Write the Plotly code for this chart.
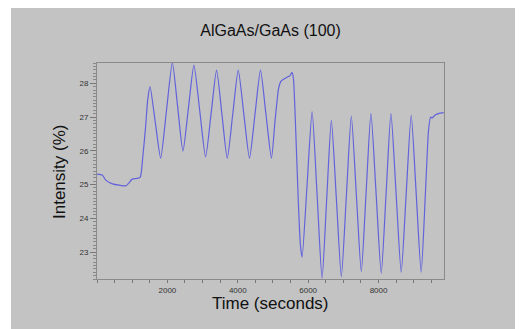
import plotly.graph_objects as go

# Time (seconds) and intensity (%)
time_s = [0, 150, 250, 440, 630, 820, 910, 1000, 1150, 1230, 1300, 1380, 1440, 1506,
          1657, 1809, 1975, 2141, 2292, 2442, 2598, 2754, 2920, 3086, 3242, 3398, 3550,
          3701, 3857, 4013, 4173, 4333, 4489, 4645, 4801, 4957, 5060, 5160, 5220, 5300,
          5400, 5480, 5540, 5580, 5650, 5720, 5780, 5828, 5970, 6112, 6254, 6395, 6527,
          6659, 6801, 6943, 7085, 7226, 7368, 7510, 7647, 7784, 7930, 8077, 8215, 8352,
          8498, 8644, 8786, 8928, 9070, 9211, 9330, 9420, 9480, 9520, 9600, 9700, 9850]
intensity = [25.31, 25.28, 25.13, 25.02, 24.98, 24.96, 25.05, 25.16, 25.18, 25.22, 25.8,
             26.7, 27.5, 27.9, 26.84, 25.78, 27.2, 28.61, 27.3, 25.99, 27.27, 28.54, 27.18,
             25.82, 27.1, 28.39, 27.08, 25.78, 27.08, 28.39, 27.08, 25.78, 27.08, 28.39,
             27.08, 25.78, 26.9, 27.85, 28.05, 28.12, 28.18, 28.22, 28.32, 28.15, 26.5, 24.5,
             23.2, 22.85, 25.0, 27.16, 24.69, 22.22, 24.57, 26.91, 24.59, 22.27, 24.65, 27.03,
             24.72, 22.42, 24.77, 27.11, 24.74, 22.37, 24.74, 27.11, 24.75, 22.40, 24.73,
             27.06, 24.73, 22.40, 24.7, 26.6, 27.0, 26.97, 27.05, 27.1, 27.13]

title_text = "AlGaAs/GaAs (100)"
x_title = "Time (seconds)"
y_title = "Intensity (%)"

FONT = "Liberation Sans, Arial, sans-serif"
# page has an 8px body margin; figure is sized/offset to compensate
W, H = 515, 321
L, R, T, B = 89, 79, 55, 50
pw, ph = W - L - R, H - T - B

fig = go.Figure()
fig.add_trace(go.Scatter(x=time_s, y=intensity, mode="lines",
                         line=dict(color="#6262dc", width=1.2, shape="spline", smoothing=0.6),
                         showlegend=False))

# gray backdrop
fig.add_shape(type="rect", xref="paper", yref="paper",
              x0=(3 - L) / pw, x1=(W + 5 - L) / pw,
              y0=-(B + 5) / ph, y1=(ph + T + 5) / ph,
              fillcolor="#c3c3c3", line=dict(width=0), layer="below")

fig.add_annotation(text=x_title, xref="paper", yref="paper",
                   x=0.5, y=-(24) / ph, xanchor="center", yanchor="middle",
                   showarrow=False, font=dict(size=17, color="#111111"))
fig.add_annotation(text=y_title, xref="paper", yref="paper", textangle=-90,
                   x=(51 - L) / pw, y=(ph - (172 - 8 - T)) / ph,
                   xanchor="center", yanchor="middle",
                   showarrow=False, font=dict(size=17, color="#111111"))

fig.update_layout(
    width=W, height=H,
    margin=dict(l=L, r=R, t=T, b=B, autoexpand=False),
    paper_bgcolor="white",
    plot_bgcolor="#e4e4e4",
    font=dict(family=FONT, color="#222222"),
    title=dict(text=title_text, x=(L + pw / 2) / W, xanchor="center", y=1 - 22 / H,
               yanchor="middle", font=dict(size=16, color="#111111")),
)
fig.update_xaxes(
    range=[0, 9860], tickvals=[2000, 4000, 6000, 8000],
    ticks="outside", ticklen=3, tickcolor="#777777", tickwidth=1,
    minor=dict(dtick=500, tick0=0, ticks="outside", ticklen=3, tickcolor="#777777"),
    showline=True, linecolor="#8a8a8a", linewidth=1, mirror=True,
    showgrid=False, zeroline=False,
    tickfont=dict(size=8, color="#333333"),
)
fig.update_yaxes(
    range=[22.2, 28.6], tickvals=[23, 24, 25, 26, 27, 28],
    ticks="outside", ticklen=6, tickcolor="#777777", tickwidth=1,
    minor=dict(dtick=0.1, tick0=0, ticks="outside", ticklen=3, tickcolor="#888888"),
    showline=True, linecolor="#8a8a8a", linewidth=1, mirror=True,
    showgrid=False, zeroline=False,
    tickfont=dict(size=8, color="#333333"),
)

fig.write_html("out.html")
